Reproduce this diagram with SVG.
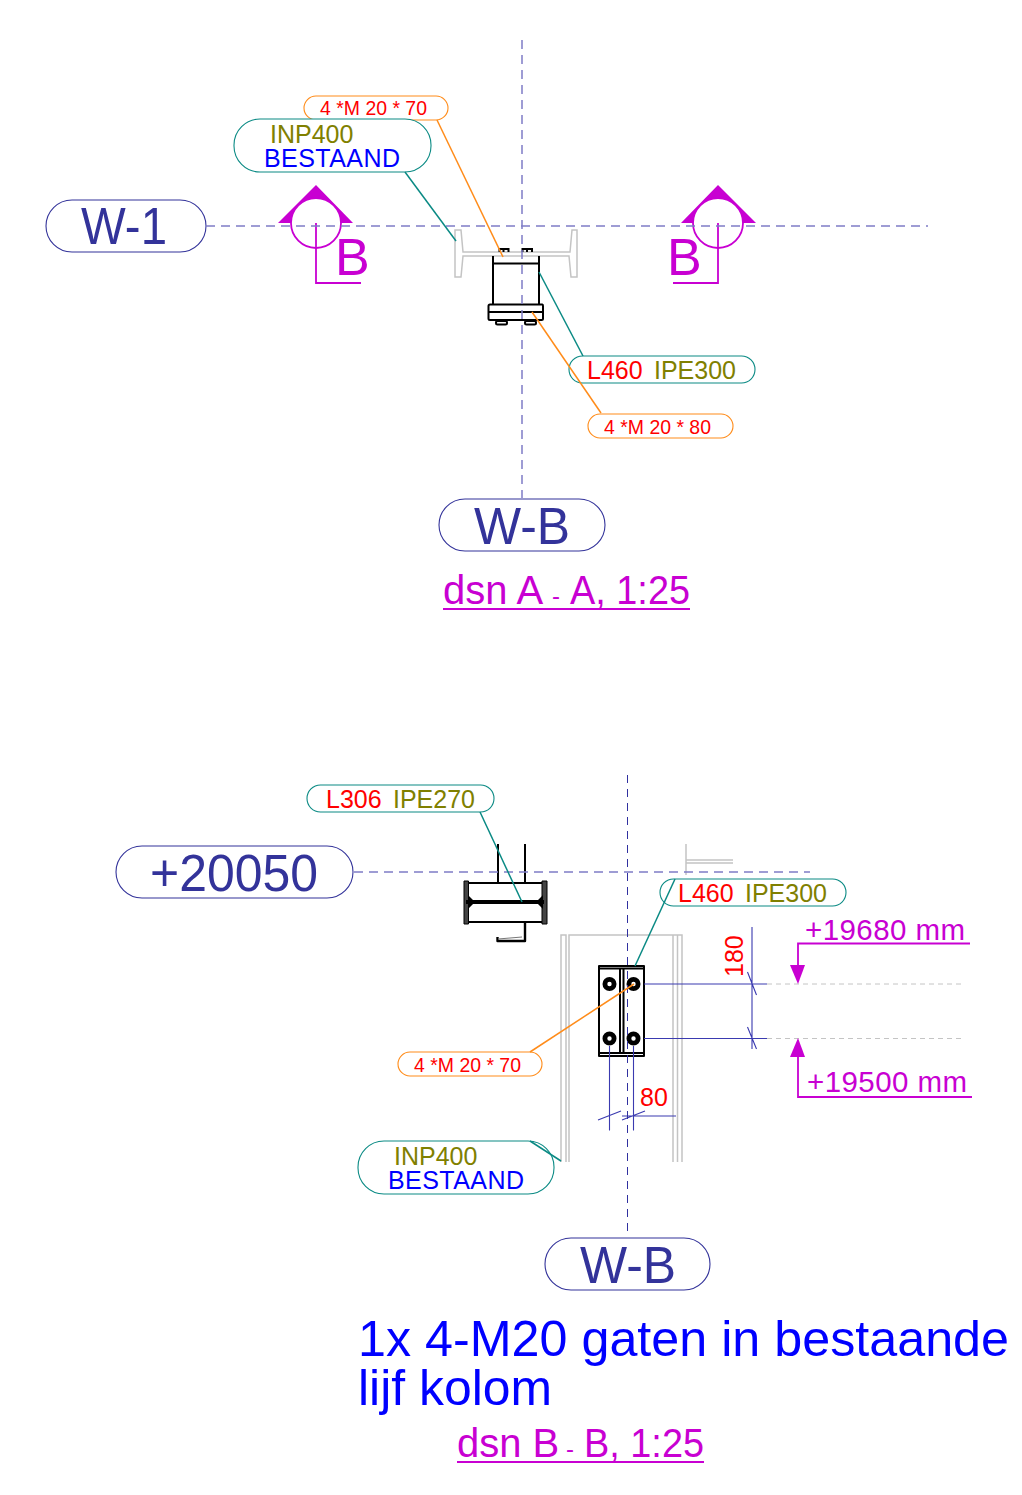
<svg xmlns="http://www.w3.org/2000/svg" width="1022" height="1495" viewBox="0 0 1022 1495">
<style>
text{font-family:"Liberation Sans",Arial,sans-serif}
.bub{fill:#fff;stroke-width:1.1}
.teal{stroke:#0a8a84}.orange{stroke:#ff8c1a}.navy{stroke:#33339a}
.lead{fill:none;stroke-width:1.5}
.axis{fill:none;stroke:#7f7cc6;stroke-width:1.5;stroke-dasharray:9 6}
.axis2{fill:none;stroke:#3030a0;stroke-width:1;stroke-dasharray:8 6}
.grey{fill:none;stroke:#c4c4c4;stroke-width:1.5}
.blk{fill:none;stroke:#000;stroke-width:2;stroke-linejoin:round}
.mag{fill:none;stroke:#c800d2;stroke-width:1.8}
.magf{fill:#c800d2;stroke:none}
.dim{fill:none;stroke:#3a3ab0;stroke-width:1.1}
.gd{fill:none;stroke:#c4c4c4;stroke-width:1;stroke-dasharray:5 4}
.t-ax{fill:#33339a;font-size:52px}
.t-m{fill:#c800d2}
.t-r{fill:#ff0000}
.t-o{fill:#808000}
.t-b{fill:#0000ff}
</style>
<g id="section-aa">
<path class="grey" d="M455 230H461L463 252H570L572 230H577V277H571L569 256H463L461 277H455Z"/>
<g fill="none" stroke="#000" stroke-width="2"><path d="M499.500 252V249H508.500V252M522.500 252V249H532V252M503.500 252V249M527 252V249"/>
<rect x="496" y="321" width="11" height="3.500" rx="1.500"/><rect x="525" y="321" width="11" height="3.500" rx="1.500"/></g>
<path class="blk" d="M493 256V304M539 256V304M493 263.500H539M490 304.500H542.500Q543 304.500 543 306V318.500Q543 320 541.500 320H490Q488.500 320 488.500 318.500V306Q488.500 304.500 490 304.500ZM488.500 312H543"/>
</g>
<g id="section-bb">
<path class="grey" d="M561 1162V935H566V1162M569 1162V935H682V1162M673 1162V935M677.500 1162V935"/>
<path class="grey" d="M686 844V875M686 860H733M686 863H733"/>
<path class="blk" d="M498 844V882M525 844V882M466 883H545M466 922H545"/>
<path d="M464 881H468.500V924H464ZM542 881H547V924H542Z" fill="#444" stroke="#000" stroke-width="1"/>
<path d="M466 900H544V904H466Z" fill="#000"/><path d="M468 895L475 902L468 909ZM543 895L536 902L543 909Z" fill="#000"/>
<path class="blk" d="M525 923V941H497.500V937" style="stroke-width:2.400"/><path d="M498 939L522 937" fill="none" stroke="#777" stroke-width="1"/>
<path class="blk" d="M599 966H644V1056H599ZM599 968.500H644M599 1053H644M620 968V1053M623.500 968V1053"/>
<g fill="#fff" stroke="#000" stroke-width="4.800"><circle cx="609.500" cy="984" r="4.600"/><circle cx="633.500" cy="984" r="4.600"/><circle cx="609.500" cy="1038.500" r="4.600"/><circle cx="633.500" cy="1038.500" r="4.600"/></g>
</g>
<g id="dims">
<path class="dim" d="M644 984H767M644 1038.500H767M752 927V1049M747.500 972L756.500 995M747.500 1027L756.500 1049"/>
<path class="dim" d="M609.500 1046V1130.500M633.500 1046V1130.500M622 1116H676M598 1120L621 1111M622 1120L645 1111"/>
<path class="gd" d="M767 984H962M767 1038.500H962"/>
<text class="t-r" font-size="25" transform="translate(743,977) rotate(-90)">180</text>
<text class="t-r" x="640" y="1106" font-size="25">80</text>
</g>
<g id="level-19680"><path class="mag" d="M970 943.500H798V968"/><path class="magf" d="M790 965H805L798 984Z"/><text class="t-m" x="805" y="940" font-size="29.500" textLength="160">+19680 mm</text></g>
<g id="level-19500"><path class="mag" d="M972 1097H798V1054"/><path class="magf" d="M790 1057H805L798 1038Z"/><text class="t-m" x="807" y="1092" font-size="29.500" textLength="160">+19500 mm</text></g>
<g id="cut-left">
<path class="magf" d="M278 223L316 185L353 223H341A25 25 0 0 0 291 223Z"/>
<circle class="mag" cx="316" cy="223" r="25"/><path class="mag" d="M316 223V283H361"/>
<text class="t-m" x="335" y="275" font-size="52">B</text>
</g>
<g id="cut-right">
<path class="magf" d="M681 223L718 185L756 223H743A25 25 0 0 0 693 223Z"/>
<circle class="mag" cx="718" cy="223" r="25"/><path class="mag" d="M718 223V283H673"/>
<text class="t-m" x="667" y="275" font-size="52">B</text>
</g>
<g id="w1"><rect class="bub navy" x="46" y="200" width="160" height="52" rx="26"/><text class="t-ax" x="81" y="244" textLength="86" lengthAdjust="spacingAndGlyphs">W-1</text></g>
<g id="wb1"><rect class="bub navy" x="439" y="499" width="166" height="52" rx="26"/><text class="t-ax" x="474" y="544" textLength="96" lengthAdjust="spacingAndGlyphs">W-B</text></g>
<g id="wb2"><rect class="bub navy" x="545" y="1238" width="165" height="52" rx="26"/><text class="t-ax" x="580" y="1283" textLength="96" lengthAdjust="spacingAndGlyphs">W-B</text></g>
<g id="lvl"><rect class="bub navy" x="116" y="846" width="237" height="52" rx="26"/><text class="t-ax" x="150" y="891" textLength="168" lengthAdjust="spacingAndGlyphs">+20050</text></g>
<g id="bolt1"><rect class="bub orange" x="304" y="96" width="144" height="24" rx="12"/><text class="t-r" x="320" y="115" font-size="21" textLength="107" lengthAdjust="spacingAndGlyphs">4 *M 20 * 70</text></g>
<g id="inp1"><rect class="bub teal" x="234" y="119" width="197" height="53" rx="26"/><text class="t-o" x="270" y="143" font-size="25">INP400</text><text class="t-b" x="264" y="167" font-size="25" textLength="136">BESTAAND</text></g>
<g id="l460a"><rect class="bub teal" x="569" y="356" width="186" height="27" rx="13.500"/><text class="t-r" x="587" y="379" font-size="25">L460</text><text class="t-o" x="654" y="379" font-size="25">IPE300</text></g>
<g id="bolt2"><rect class="bub orange" x="588" y="414" width="145" height="24" rx="12"/><text class="t-r" x="604" y="434" font-size="21" textLength="107" lengthAdjust="spacingAndGlyphs">4 *M 20 * 80</text></g>
<g id="l306"><rect class="bub teal" x="307" y="785" width="187" height="27" rx="13.500"/><text class="t-r" x="326" y="808" font-size="25">L306</text><text class="t-o" x="393" y="808" font-size="25">IPE270</text></g>
<g id="l460b"><rect class="bub teal" x="660" y="879" width="186" height="27" rx="13.500"/><text class="t-r" x="678" y="902" font-size="25">L460</text><text class="t-o" x="745" y="902" font-size="25">IPE300</text></g>
<g id="bolt3"><rect class="bub orange" x="398" y="1052" width="144" height="24" rx="12"/><text class="t-r" x="414" y="1072" font-size="21" textLength="107" lengthAdjust="spacingAndGlyphs">4 *M 20 * 70</text></g>
<g id="inp2"><rect class="bub teal" x="358" y="1141" width="196" height="53" rx="26"/><text class="t-o" x="394" y="1165" font-size="25">INP400</text><text class="t-b" x="388" y="1189" font-size="25" textLength="136">BESTAAND</text></g>
<g id="connectors">
<path class="axis" d="M206 226H928"/>
<path class="axis" d="M522 40V498"/>
<path class="axis" d="M354 872H810"/>
<path class="axis2" d="M627.500 775V1237"/>
<path class="lead teal" d="M405 172L456 241"/>
<path class="lead orange" d="M437 120L503 257"/>
<path class="lead teal" d="M539 272L583 356"/>
<path class="lead orange" d="M532 312L601 413"/>
<path class="lead teal" d="M480 812L522 902"/>
<path class="lead teal" d="M675 879L635 966"/>
<path class="lead orange" d="M634 984L530 1052"/>
<path class="lead teal" d="M530 1141L561 1161"/>
</g>
<g id="title1"><text class="t-m" y="604" font-size="40"><tspan x="443">dsn A</tspan> <tspan x="552" font-size="24">-</tspan> <tspan x="570" textLength="120" lengthAdjust="spacingAndGlyphs">A, 1:25</tspan></text><path class="mag" d="M443 609H690"/></g>
<g id="title2"><text class="t-b" x="358" y="1356" font-size="50.500" textLength="651" lengthAdjust="spacingAndGlyphs">1x 4-M20 gaten in bestaande</text><text class="t-b" x="358" y="1405" font-size="50.500" textLength="194" lengthAdjust="spacingAndGlyphs">lijf kolom</text><text class="t-m" y="1457" font-size="40"><tspan x="457">dsn B</tspan> <tspan x="566" font-size="24">-</tspan> <tspan x="584" textLength="120" lengthAdjust="spacingAndGlyphs">B, 1:25</tspan></text><path class="mag" d="M457 1462H704"/></g>
</svg>
